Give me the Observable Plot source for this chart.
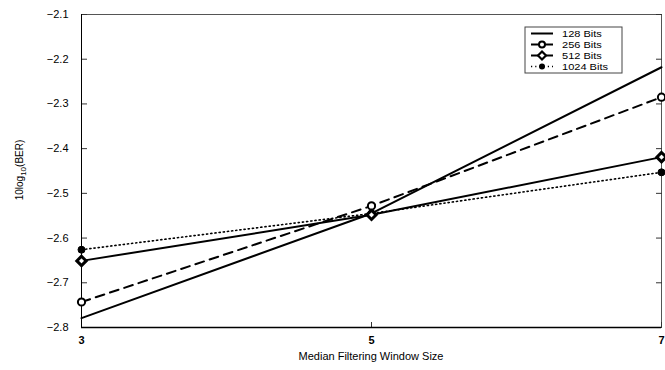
<!DOCTYPE html>
<html>
<head>
<meta charset="utf-8">
<script src="https://cdn.jsdelivr.net/npm/d3@7"></script>
<script src="https://cdn.jsdelivr.net/npm/@observablehq/plot@0.6"></script>
<style>
  html, body { margin: 0; padding: 0; background: #fff; }
  #chart svg { display: block; }
</style>
</head>
<body>
<div id="chart"></div>
<script>
// Median filter window sizes
const windowSizes = [3, 5, 7];
// 10log10(BER) for each watermark length
const ber128 = [-2.779, -2.545, -2.218];
const ber256 = [-2.743, -2.528, -2.285];
const ber512 = [-2.651, -2.548, -2.419];
const ber1024 = [-2.626, -2.545, -2.453];
const seriesNames = ["128 Bits", "256 Bits", "512 Bits", "1024 Bits"];
const yTicks = [-2.8, -2.7, -2.6, -2.5, -2.4, -2.3, -2.2, -2.1];
const xTicks = [3, 5, 7];

const rows = (name, vals) => windowSizes.map((w, i) => ({series: name, w, ber: vals[i]}));
const d128 = rows(seriesNames[0], ber128);
const d256 = rows(seriesNames[1], ber256);
const d512 = rows(seriesNames[2], ber512);
const d1024 = rows(seriesNames[3], ber1024);

const font = "'Liberation Sans', Arial, Helvetica, sans-serif";

const chart = Plot.plot({
  width: 665,
  height: 370,
  marginLeft: 81,
  marginRight: 4,
  marginTop: 14,
  marginBottom: 43,
  style: {fontFamily: font, fontSize: "11px", color: "#000", background: "#fff"},
  x: {domain: [3, 7], label: null},
  y: {domain: [-2.8, -2.1], label: null},
  marks: [
    Plot.frame({stroke: "#555", strokeWidth: 1}),
    Plot.axisY({anchor: "left", ticks: yTicks, tickSize: 0, tickPadding: 13, tickFormat: d3.format(".1f"), fontSize: 11}),
    Plot.axisY({anchor: "left", ticks: yTicks, tickSize: -6, text: null, stroke: "#333"}),
    Plot.axisY({anchor: "right", ticks: yTicks, tickSize: -6, text: null, stroke: "#333"}),
    Plot.axisX({anchor: "bottom", ticks: xTicks, tickSize: 0, tickPadding: 9, tickFormat: d3.format("d"), fontSize: 11, fontWeight: 600}),
    Plot.axisX({anchor: "bottom", ticks: xTicks, tickSize: -5, text: null, stroke: "#333"}),
    Plot.ruleY([-2.8], {stroke: "#000", strokeWidth: 1.5}),
    Plot.ruleX([3], {stroke: "#000", strokeWidth: 1}),
    // 1024 Bits: dotted line, filled circles
    Plot.line(d1024, {x: "w", y: "ber", stroke: "#000", strokeWidth: 1.6, strokeDasharray: "1.2,3"}),
    // 512 Bits: solid line, diamonds
    Plot.line(d512, {x: "w", y: "ber", stroke: "#000", strokeWidth: 2}),
    // 256 Bits: dashed line, open circles
    Plot.line(d256, {x: "w", y: "ber", stroke: "#000", strokeWidth: 2, strokeDasharray: "9,6"}),
    // 128 Bits: solid line, no markers
    Plot.line(d128, {x: "w", y: "ber", stroke: "#000", strokeWidth: 2}),
    Plot.dot(d1024, {x: "w", y: "ber", r: 3.5, fill: "#000", stroke: "#000", strokeWidth: 1}),
    Plot.dot(d512, {x: "w", y: "ber", symbol: "diamond2", r: 4.2, fill: "#fff", stroke: "#000", strokeWidth: 3}),
    Plot.dot(d256, {x: "w", y: "ber", r: 3.6, fill: "#fff", stroke: "#000", strokeWidth: 2})
  ]
});

const svg = d3.select(chart);

// y-axis title with subscript
const yt = svg.append("text")
  .attr("transform", "translate(23,170) rotate(-90)")
  .attr("text-anchor", "middle")
  .attr("font-family", font)
  .attr("font-size", 10)
  .attr("fill", "#000");
yt.append("tspan").text("10log");
yt.append("tspan").attr("font-size", 8).attr("dy", 3).text("10");
yt.append("tspan").attr("dy", -3).text("(BER)");

// x-axis title
svg.append("text")
  .attr("x", 371).attr("y", 360)
  .attr("text-anchor", "middle")
  .attr("font-family", font)
  .attr("font-size", 11)
  .attr("fill", "#000")
  .text("Median Filtering Window Size");

// legend box
const lg = svg.append("g").attr("transform", "translate(525,27)");
lg.append("rect").attr("width", 97).attr("height", 46)
  .attr("fill", "#fff").attr("stroke", "#444").attr("stroke-width", 1);
const styles = [
  {dash: null, w: 2, marker: null},
  {dash: null, w: 2, marker: "open"},
  {dash: null, w: 2, marker: "diamond"},
  {dash: "1.2,3", w: 1.6, marker: "filled"}
];
seriesNames.forEach((name, i) => {
  const y = 6.5 + i * 11;
  const s = styles[i];
  const l = lg.append("line").attr("x1", 6).attr("x2", 28).attr("y1", y).attr("y2", y)
    .attr("stroke", "#000").attr("stroke-width", s.w);
  if (s.dash) l.attr("stroke-dasharray", s.dash);
  if (s.marker === "open") lg.append("circle").attr("cx", 17).attr("cy", y).attr("r", 3)
    .attr("fill", "#fff").attr("stroke", "#000").attr("stroke-width", 2);
  if (s.marker === "filled") lg.append("circle").attr("cx", 17).attr("cy", y).attr("r", 3).attr("fill", "#000");
  if (s.marker === "diamond") lg.append("path").attr("d", `M17,${y - 4}L21,${y}L17,${y + 4}L13,${y}Z`)
    .attr("fill", "#fff").attr("stroke", "#000").attr("stroke-width", 2.2);
  lg.append("text").attr("transform", `translate(37,${y}) scale(1.15,1)`).attr("dy", "0.35em")
    .attr("text-anchor", "start")
    .attr("font-family", font).attr("font-size", 9.6).attr("fill", "#000").text(name);
});

document.getElementById("chart").appendChild(chart);
</script>
</body>
</html>
